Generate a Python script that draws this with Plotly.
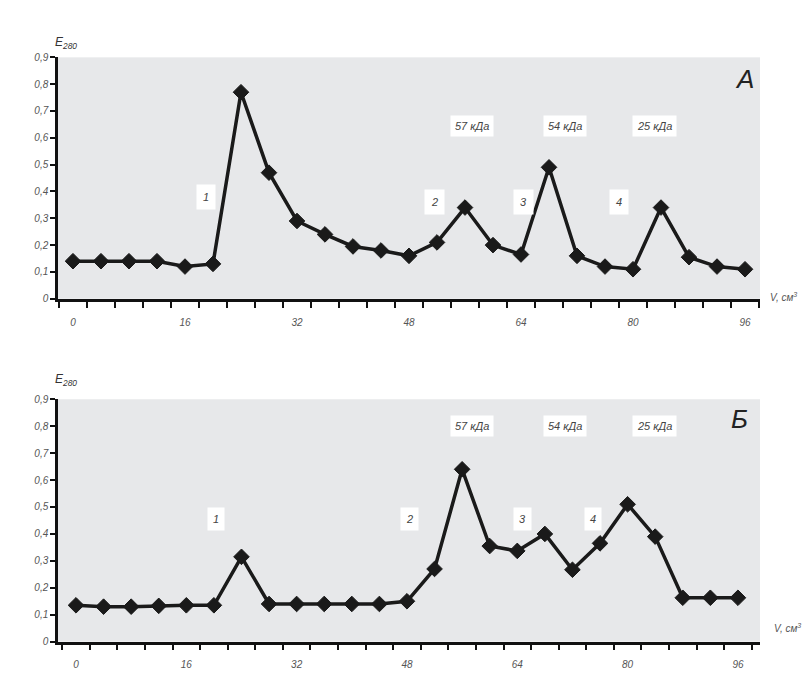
import plotly.graph_objects as go

# ---- data ----
volume = [0, 4, 8, 12, 16, 20, 24, 28, 32, 36, 40, 44, 48, 52, 56, 60, 64, 68, 72, 76, 80, 84, 88, 92, 96]
e280_a = [0.14, 0.14, 0.14, 0.14, 0.12, 0.13, 0.77, 0.47, 0.29, 0.24, 0.195, 0.18, 0.16,
          0.21, 0.34, 0.20, 0.165, 0.49, 0.16, 0.12, 0.11, 0.34, 0.155, 0.12, 0.11]
e280_b = [0.135, 0.13, 0.13, 0.133, 0.135, 0.135, 0.315, 0.14, 0.14, 0.14, 0.14, 0.14, 0.15,
          0.27, 0.64, 0.355, 0.337, 0.40, 0.267, 0.365, 0.51, 0.39, 0.163, 0.163, 0.163]
x_tick_vals = [0, 16, 32, 48, 64, 80, 96]
x_tick_text = ["0", "16", "32", "48", "64", "80", "96"]
y_tick_vals = [0, 0.1, 0.2, 0.3, 0.4, 0.5, 0.6, 0.7, 0.8, 0.9]
y_tick_text = ["0", "0,1", "0,2", "0,3", "0,4", "0,5", "0,6", "0,7", "0,8", "0,9"]
peak_numbers = ["1", "2", "3", "4"]
mass_labels = ["57 кДа", "54 кДа", "25 кДа"]

W, H = 812, 684
FONT = "Liberation Sans, Arial, sans-serif"

fig = go.Figure()
line_style = dict(color="#1a1a1a", width=3.5)
marker_style = dict(symbol="diamond", size=12, color="#1a1a1a", line=dict(color="#1a1a1a", width=1))
fig.add_trace(go.Scatter(x=volume, y=e280_a, mode="lines+markers", line=line_style,
                         marker=marker_style, xaxis="x", yaxis="y", showlegend=False))
fig.add_trace(go.Scatter(x=volume, y=e280_b, mode="lines+markers", line=line_style,
                         marker=marker_style, xaxis="x2", yaxis="y2", showlegend=False))

def xaxis(domain, rng, anchor):
    return dict(domain=domain, range=rng, anchor=anchor,
                tickmode="array", tickvals=x_tick_vals, ticktext=x_tick_text, ticks="",
                ticklabelstandoff=12,
                minor=dict(ticks="outside", tick0=-2, dtick=4, ticklen=6, tickwidth=2, tickcolor="#111"),
                showline=True, linecolor="#111", linewidth=2.5, showgrid=False, zeroline=False,
                tickfont=dict(family=FONT, size=10, color="#555", style="italic"))

def yaxis(domain, anchor):
    return dict(domain=domain, range=[0, 0.9], anchor=anchor,
                tickmode="array", tickvals=y_tick_vals, ticktext=y_tick_text,
                ticks="outside", ticklen=5, tickwidth=2, tickcolor="#111",
                showline=True, linecolor="#111", linewidth=2.5, showgrid=False, zeroline=False,
                tickfont=dict(family=FONT, size=10, color="#555", style="italic"))

xd = [50 / W, 752 / W]
fig.update_layout(
    width=W, height=H,
    margin=dict(l=0, r=0, t=0, b=0),
    paper_bgcolor="white", plot_bgcolor="#e7e8ea",
    xaxis=xaxis(xd, [-2.14, 98.14], "y"),
    yaxis=yaxis([(H - 290) / H, (H - 45) / H], "x"),
    xaxis2=xaxis(xd, [-2.61, 99.2], "y2"),
    yaxis2=yaxis([(H - 638) / H, (H - 392) / H], "x2"),
)

ann = []
lab_font = dict(family=FONT, size=11, color="#444", style="italic")
# panel A
for txt, x in zip(peak_numbers, [19, 51.6, 64.3, 78]):
    ann.append(dict(x=x, y=0.38 if txt == "1" else 0.36, xref="x", yref="y", text=txt, showarrow=False,
                    font=lab_font, bgcolor="white", borderpad=6))
for txt, x in zip(mass_labels, [57, 70.3, 83]):
    ann.append(dict(x=x, y=0.643, xref="x", yref="y", text=txt, showarrow=False,
                    font=lab_font, bgcolor="white", borderpad=4))
# panel B
for txt, x in zip(peak_numbers, [20.3, 48.4, 64.8, 75]):
    ann.append(dict(x=x, y=0.457, xref="x2", yref="y2", text=txt, showarrow=False,
                    font=lab_font, bgcolor="white", borderpad=5))
for txt, x in zip(mass_labels, [57.5, 70.9, 83.9]):
    ann.append(dict(x=x, y=0.80, xref="x2", yref="y2", text=txt, showarrow=False,
                    font=lab_font, bgcolor="white", borderpad=4))

def px(xp, yp):
    return xp / W, (H - yp) / H

for name, (xp, yp) in [("А", (748, 50)), ("Б", (742, 412))]:
    x, y = px(xp, yp)
    ann.append(dict(x=x, y=y, xref="paper", yref="paper", text=name, showarrow=False,
                    font=dict(family=FONT, size=26, color="#222", style="italic")))
for (xp, yp) in [(45, 20), (45, 372)]:
    x, y = px(xp, yp)
    ann.append(dict(x=x, y=y, xref="paper", yref="paper", xanchor="left",
                    text="E<sub>280</sub>", showarrow=False,
                    font=dict(family=FONT, size=12, color="#333", style="italic")))
for (xp, yp) in [(760, 288), (764, 632)]:
    x, y = px(xp, yp)
    ann.append(dict(x=x, y=y, xref="paper", yref="paper", xanchor="left",
                    text="V, см<sup>3</sup>", showarrow=False,
                    font=dict(family=FONT, size=10, color="#555", style="italic")))
fig.update_layout(annotations=ann)

fig.write_html("out.html")
